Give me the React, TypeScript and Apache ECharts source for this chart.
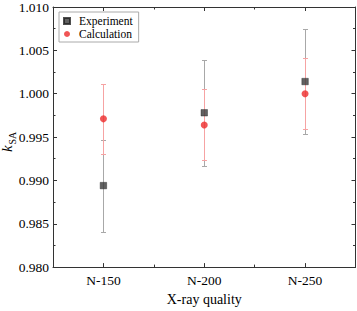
import React, { useEffect, useRef } from "react";
import * as echarts from "echarts";

const categories = ["N-150", "N-200", "N-250"];
const expValues = [0.9894, 0.9978, 1.0014];
const expErrors = [0.0053, 0.0061, 0.0061];
const calcValues = [0.9971, 0.9964, 1.0];
const calcErrors = [0.004, 0.0041, 0.0041];
const yTicks = [0.98, 0.985, 0.99, 0.995, 1.0, 1.005, 1.01];

const FONT = "'Liberation Serif', 'Times New Roman', serif";
const AXIS_COLOR = "#333";

function errorSeries(name: string, values: number[], errors: number[], color: string, z: number) {
  return {
    type: "custom",
    name: name + "-err",
    xAxisIndex: 0,
    yAxisIndex: 0,
    z,
    silent: true,
    data: values.map((v, i) => [i + 1, v - errors[i], v + errors[i]]),
    renderItem: (params: any, api: any) => {
      const x = api.value(0);
      const lo = api.coord([x, api.value(1)]);
      const hi = api.coord([x, api.value(2)]);
      const cx = Math.round(lo[0]) + 0.5;
      const yl = Math.round(lo[1]) + 0.5;
      const yh = Math.round(hi[1]) + 0.5;
      const cap = 2.5;
      const style = { stroke: color, lineWidth: 1 };
      return {
        type: "group",
        children: [
          { type: "line", shape: { x1: cx, y1: yl, x2: cx, y2: yh }, style },
          { type: "line", shape: { x1: cx - cap, y1: yl, x2: cx + cap, y2: yl }, style },
          { type: "line", shape: { x1: cx - cap, y1: yh, x2: cx + cap, y2: yh }, style },
        ],
      };
    },
  };
}

export default function App() {
  const ref = useRef<HTMLDivElement>(null);
  useEffect(() => {
    if (!ref.current) return;
    const chart = echarts.init(ref.current, undefined, { renderer: "svg" });
    const xBase = {
      type: "value",
      min: 0.5,
      max: 3.5,
      interval: 0.5,
      splitLine: { show: false },
    };
    const yBase = {
      type: "value",
      min: 0.98,
      max: 1.01,
      interval: 0.005,
      splitLine: { show: false },
      axisLine: { show: true, lineStyle: { color: AXIS_COLOR, width: 1 } },
      axisTick: { show: true, inside: true, length: 4, lineStyle: { color: AXIS_COLOR } },
      minorTick: { show: true, splitNumber: 2, length: 2.5, lineStyle: { color: AXIS_COLOR } },
    };
    chart.setOption({
      animation: false,
      grid: { left: 53, right: 1.5, top: 5.5, bottom: 37, containLabel: false },
      legend: {
        orient: "vertical",
        left: 59,
        top: 12,
        data: [
          { name: "Experiment", icon: "path://M0,0H10V10H0Z" },
          { name: "Calculation", icon: "circle" },
        ],
        padding: [3, 6, 2, 4],
        itemGap: 1,
        itemWidth: 14,
        itemHeight: 6,
        borderColor: "#aaa",
        borderWidth: 1,
        textStyle: { fontFamily: FONT, fontSize: 11.5, color: "#000", padding: [0, 0, 0, 0] },
      },
      xAxis: [
        {
          ...xBase,
          position: "bottom",
          axisLine: { show: true, lineStyle: { color: AXIS_COLOR, width: 1 } },
          axisTick: { show: true, inside: true, length: 4, customValues: [1, 2, 3], lineStyle: { color: AXIS_COLOR } },
          axisLabel: {
            show: true,
            customValues: [1, 2, 3],
            margin: 6,
            fontFamily: FONT,
            fontSize: 13.5,
            color: "#000",
            formatter: (v: number) => categories[Math.round(v) - 1] ?? "",
          },
          name: "X-ray quality",
          nameLocation: "middle",
          nameGap: 19,
          nameTextStyle: { fontFamily: FONT, fontSize: 14, color: "#000" },
        },
        {
          ...xBase,
          position: "bottom",
          axisLine: { show: false },
          axisTick: { show: true, inside: true, length: 2.5, customValues: [1.5, 2.5], lineStyle: { color: AXIS_COLOR } },
          axisLabel: { show: false },
        },
        {
          ...xBase,
          position: "top",
          axisLine: { show: true, lineStyle: { color: AXIS_COLOR, width: 1 } },
          axisTick: { show: true, inside: true, length: 4, customValues: [1, 2, 3], lineStyle: { color: AXIS_COLOR } },
          axisLabel: { show: false },
        },
        {
          ...xBase,
          position: "top",
          axisLine: { show: false },
          axisTick: { show: true, inside: true, length: 2.5, customValues: [1.5, 2.5], lineStyle: { color: AXIS_COLOR } },
          axisLabel: { show: false },
        },
      ],
      yAxis: [
        {
          ...yBase,
          position: "left",
          axisLabel: {
            show: true,
            margin: 4,
            fontFamily: FONT,
            fontSize: 13.5,
            color: "#000",
            customValues: yTicks,
            formatter: (v: number) => v.toFixed(3),
          },
        },
        {
          ...yBase,
          position: "right",
          axisLabel: { show: false },
        },
      ],
      graphic: [
        {
          type: "group",
          x: 14,
          y: 152,
          rotation: Math.PI / 2,
          children: [
            {
              type: "text",
              x: 0,
              y: 0,
              style: {
                text: "k",
                font: `italic 15px ${FONT}`,
                fill: "#000",
                textAlign: "left",
                textVerticalAlign: "bottom",
              },
            },
            {
              type: "text",
              x: 7.5,
              y: 3,
              style: {
                text: "SA",
                font: `10px ${FONT}`,
                fill: "#000",
                textAlign: "left",
                textVerticalAlign: "bottom",
              },
            },
          ],
        },
      ],
      series: [
        errorSeries("Experiment", expValues, expErrors, "#a8a8a8", 2),
        errorSeries("Calculation", calcValues, calcErrors, "#f6a3a3", 3),
        {
          type: "scatter",
          name: "Experiment",
          z: 4,
          symbol: "rect",
          symbolSize: 6.5,
          itemStyle: { color: "#3a3a3a", borderColor: "#222", borderWidth: 0.5 },
          data: expValues.map((v, i) => [i + 1, v]),
        },
        {
          type: "scatter",
          name: "Calculation",
          z: 5,
          symbol: "circle",
          symbolSize: 7,
          itemStyle: { color: "#ec2b2b" },
          data: calcValues.map((v, i) => [i + 1, v]),
        },
      ],
    });
    return () => chart.dispose();
  }, []);
  return (
    <div
      ref={ref}
      style={{ position: "fixed", left: 0, top: 0, width: 357, height: 311, background: "#fff" }}
    />
  );
}
